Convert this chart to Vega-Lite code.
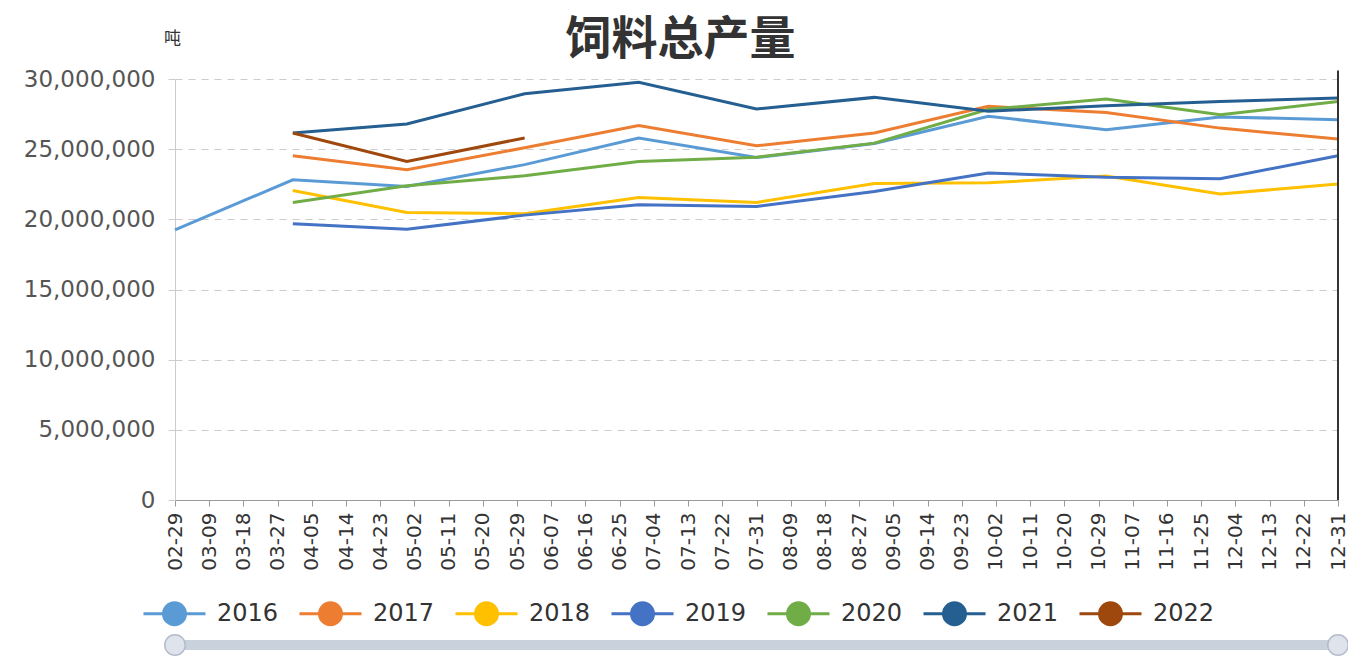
{
  "$schema": "https://vega.github.io/schema/vega-lite/v6.json",
  "width": 1163,
  "height": 421,
  "autosize": {"type": "none"},
  "padding": {"left": 175, "top": 79, "right": 10, "bottom": 158},
  "background": "white",
  "title": {
    "text": "饲料总产量",
    "anchor": "middle",
    "frame": "group",
    "dx": -76,
    "dy": 39,
    "font": "Noto Sans CJK SC",
    "fontSize": 46,
    "fontWeight": "bold",
    "color": "#333333"
  },
  "config": {
    "view": {"stroke": null},
    "font": "DejaVu Sans",
    "axis": {"labelOverlap": false},
    "axisX": {"labelOverlap": false}
  },
  "layer": [
    {
      "data": {
        "values": [
          {"year": "2016", "date": "2016-02-29", "value": 19250000},
          {"year": "2016", "date": "2016-03-31", "value": 22820000},
          {"year": "2016", "date": "2016-04-30", "value": 22340000},
          {"year": "2016", "date": "2016-05-31", "value": 23900000},
          {"year": "2016", "date": "2016-06-30", "value": 25790000},
          {"year": "2016", "date": "2016-07-31", "value": 24400000},
          {"year": "2016", "date": "2016-08-31", "value": 25400000},
          {"year": "2016", "date": "2016-09-30", "value": 27350000},
          {"year": "2016", "date": "2016-10-31", "value": 26380000},
          {"year": "2016", "date": "2016-11-30", "value": 27300000},
          {"year": "2016", "date": "2016-12-31", "value": 27100000},
          {"year": "2017", "date": "2016-03-31", "value": 24530000},
          {"year": "2017", "date": "2016-04-30", "value": 23530000},
          {"year": "2017", "date": "2016-05-31", "value": 25100000},
          {"year": "2017", "date": "2016-06-30", "value": 26680000},
          {"year": "2017", "date": "2016-07-31", "value": 25240000},
          {"year": "2017", "date": "2016-08-31", "value": 26150000},
          {"year": "2017", "date": "2016-09-30", "value": 28050000},
          {"year": "2017", "date": "2016-10-31", "value": 27620000},
          {"year": "2017", "date": "2016-11-30", "value": 26500000},
          {"year": "2017", "date": "2016-12-31", "value": 25720000},
          {"year": "2018", "date": "2016-03-31", "value": 22060000},
          {"year": "2018", "date": "2016-04-30", "value": 20490000},
          {"year": "2018", "date": "2016-05-31", "value": 20400000},
          {"year": "2018", "date": "2016-06-30", "value": 21560000},
          {"year": "2018", "date": "2016-07-31", "value": 21200000},
          {"year": "2018", "date": "2016-08-31", "value": 22560000},
          {"year": "2018", "date": "2016-09-30", "value": 22600000},
          {"year": "2018", "date": "2016-10-31", "value": 23080000},
          {"year": "2018", "date": "2016-11-30", "value": 21800000},
          {"year": "2018", "date": "2016-12-31", "value": 22520000},
          {"year": "2019", "date": "2016-03-31", "value": 19680000},
          {"year": "2019", "date": "2016-04-30", "value": 19300000},
          {"year": "2019", "date": "2016-05-31", "value": 20300000},
          {"year": "2019", "date": "2016-06-30", "value": 21040000},
          {"year": "2019", "date": "2016-07-31", "value": 20920000},
          {"year": "2019", "date": "2016-08-31", "value": 21990000},
          {"year": "2019", "date": "2016-09-30", "value": 23300000},
          {"year": "2019", "date": "2016-10-31", "value": 23000000},
          {"year": "2019", "date": "2016-11-30", "value": 22900000},
          {"year": "2019", "date": "2016-12-31", "value": 24530000},
          {"year": "2020", "date": "2016-03-31", "value": 21200000},
          {"year": "2020", "date": "2016-04-30", "value": 22400000},
          {"year": "2020", "date": "2016-05-31", "value": 23100000},
          {"year": "2020", "date": "2016-06-30", "value": 24120000},
          {"year": "2020", "date": "2016-07-31", "value": 24430000},
          {"year": "2020", "date": "2016-08-31", "value": 25430000},
          {"year": "2020", "date": "2016-09-30", "value": 27840000},
          {"year": "2020", "date": "2016-10-31", "value": 28570000},
          {"year": "2020", "date": "2016-11-30", "value": 27450000},
          {"year": "2020", "date": "2016-12-31", "value": 28400000},
          {"year": "2021", "date": "2016-03-31", "value": 26150000},
          {"year": "2021", "date": "2016-04-30", "value": 26790000},
          {"year": "2021", "date": "2016-05-31", "value": 28950000},
          {"year": "2021", "date": "2016-06-30", "value": 29760000},
          {"year": "2021", "date": "2016-07-31", "value": 27860000},
          {"year": "2021", "date": "2016-08-31", "value": 28690000},
          {"year": "2021", "date": "2016-09-30", "value": 27700000},
          {"year": "2021", "date": "2016-10-31", "value": 28100000},
          {"year": "2021", "date": "2016-11-30", "value": 28390000},
          {"year": "2021", "date": "2016-12-31", "value": 28650000},
          {"year": "2022", "date": "2016-03-31", "value": 26150000},
          {"year": "2022", "date": "2016-04-30", "value": 24120000},
          {"year": "2022", "date": "2016-05-31", "value": 25800000}
        ]
      },
      "mark": {"type": "line", "strokeWidth": 3, "clip": false},
      "encoding": {
        "x": {
          "field": "date",
          "type": "temporal",
          "scale": {
            "type": "utc",
            "domain": [
              {"year": 2016, "month": 2, "date": 29, "utc": true},
              {"year": 2016, "month": 12, "date": 31, "utc": true}
            ],
            "nice": false
          },
          "axis": {
            "title": null,
            "tickCount": 60,
            "values": [
              {"year": 2016, "month": 2, "date": 29, "utc": true},
              {"year": 2016, "month": 3, "date": 9, "utc": true},
              {"year": 2016, "month": 3, "date": 18, "utc": true},
              {"year": 2016, "month": 3, "date": 27, "utc": true},
              {"year": 2016, "month": 4, "date": 5, "utc": true},
              {"year": 2016, "month": 4, "date": 14, "utc": true},
              {"year": 2016, "month": 4, "date": 23, "utc": true},
              {"year": 2016, "month": 5, "date": 2, "utc": true},
              {"year": 2016, "month": 5, "date": 11, "utc": true},
              {"year": 2016, "month": 5, "date": 20, "utc": true},
              {"year": 2016, "month": 5, "date": 29, "utc": true},
              {"year": 2016, "month": 6, "date": 7, "utc": true},
              {"year": 2016, "month": 6, "date": 16, "utc": true},
              {"year": 2016, "month": 6, "date": 25, "utc": true},
              {"year": 2016, "month": 7, "date": 4, "utc": true},
              {"year": 2016, "month": 7, "date": 13, "utc": true},
              {"year": 2016, "month": 7, "date": 22, "utc": true},
              {"year": 2016, "month": 7, "date": 31, "utc": true},
              {"year": 2016, "month": 8, "date": 9, "utc": true},
              {"year": 2016, "month": 8, "date": 18, "utc": true},
              {"year": 2016, "month": 8, "date": 27, "utc": true},
              {"year": 2016, "month": 9, "date": 5, "utc": true},
              {"year": 2016, "month": 9, "date": 14, "utc": true},
              {"year": 2016, "month": 9, "date": 23, "utc": true},
              {"year": 2016, "month": 10, "date": 2, "utc": true},
              {"year": 2016, "month": 10, "date": 11, "utc": true},
              {"year": 2016, "month": 10, "date": 20, "utc": true},
              {"year": 2016, "month": 10, "date": 29, "utc": true},
              {"year": 2016, "month": 11, "date": 7, "utc": true},
              {"year": 2016, "month": 11, "date": 16, "utc": true},
              {"year": 2016, "month": 11, "date": 25, "utc": true},
              {"year": 2016, "month": 12, "date": 4, "utc": true},
              {"year": 2016, "month": 12, "date": 13, "utc": true},
              {"year": 2016, "month": 12, "date": 22, "utc": true},
              {"year": 2016, "month": 12, "date": 31, "utc": true}
            ],
            "format": "%m-%d",
            "labelAngle": -90,
            "labelOverlap": false,
            "labelBound": false,
            "labelFlush": false,
            "labelFontSize": 20,
            "labelColor": "#333333",
            "labelPadding": 6,
            "tickSize": 6,
            "tickColor": "#999999",
            "domainColor": "#999999",
            "grid": false
          }
        },
        "y": {
          "field": "value",
          "type": "quantitative",
          "scale": {"domain": [0, 30000000], "nice": false},
          "axis": {
            "values": [0, 5000000, 10000000, 15000000, 20000000, 25000000, 30000000],
            "format": ",d",
            "title": "吨",
            "titleAngle": 0,
            "titleX": -3,
            "titleY": -41,
            "titleAlign": "center",
            "titleBaseline": "middle",
            "titleFont": "Noto Sans CJK SC",
            "titleFontSize": 17,
            "titleFontWeight": "normal",
            "titleColor": "#333333",
            "labelFontSize": 23,
            "labelColor": "#555555",
            "labelPadding": 10,
            "tickSize": 10,
            "tickColor": "#cccccc",
            "tickDash": [7, 6],
            "domainColor": "#cccccc",
            "gridColor": "#cccccc",
            "gridDash": [7, 6],
            "gridWidth": 1.2
          }
        },
        "color": {
          "field": "year",
          "type": "nominal",
          "scale": {
            "domain": ["2016", "2017", "2018", "2019", "2020", "2021", "2022"],
            "range": ["#5B9BD5", "#ED7D31", "#FFC000", "#4472C4", "#70AD47", "#255E91", "#9E480E"]
          },
          "legend": {
            "title": null,
            "orient": "none",
            "direction": "horizontal",
            "legendX": -33,
            "legendY": 502,
            "symbolType": "M-1,0L-0.355,0M0.355,0L1,0M-0.355,0A0.355,0.355,0,1,1,0.355,0A0.355,0.355,0,1,1,-0.355,0Z",
            "symbolSize": 3844,
            "symbolStrokeWidth": 3,
            "labelFontSize": 24,
            "labelColor": "#333333",
            "labelOffset": 10,
            "columnPadding": 14,
            "encode": {
              "symbols": {
                "update": {
                  "fill": {"scale": "color", "field": "value"},
                  "fillOpacity": {"value": 1}
                }
              }
            }
          }
        }
      }
    },
    {
      "data": {"values": [{}]},
      "mark": {"type": "rule", "color": "#333333", "strokeWidth": 2, "clip": false},
      "encoding": {
        "x": {"datum": {"year": 2016, "month": 12, "date": 31, "utc": true}, "type": "temporal"},
        "y": {"datum": 0, "type": "quantitative"},
        "y2": {"datum": 30600000}
      }
    },
    {
      "data": {"values": [{}]},
      "mark": {"type": "rule", "color": "#c9d1dd", "strokeWidth": 10, "strokeCap": "round", "clip": false},
      "encoding": {
        "x": {"datum": {"year": 2016, "month": 2, "date": 29, "utc": true}, "type": "temporal"},
        "x2": {"datum": {"year": 2016, "month": 12, "date": 31, "utc": true}},
        "y": {"datum": -10330000, "type": "quantitative"}
      }
    },
    {
      "data": {"values": [{}]},
      "mark": {"type": "point", "filled": true, "size": 420, "fill": "#dfe4ec", "stroke": "#b4bccb", "strokeWidth": 1.5, "opacity": 1, "clip": false},
      "encoding": {
        "x": {"datum": {"year": 2016, "month": 2, "date": 29, "utc": true}, "type": "temporal"},
        "y": {"datum": -10330000, "type": "quantitative"}
      }
    },
    {
      "data": {"values": [{}]},
      "mark": {"type": "point", "filled": true, "size": 420, "fill": "#dfe4ec", "stroke": "#b4bccb", "strokeWidth": 1.5, "opacity": 1, "clip": false},
      "encoding": {
        "x": {"datum": {"year": 2016, "month": 12, "date": 31, "utc": true}, "type": "temporal"},
        "y": {"datum": -10330000, "type": "quantitative"}
      }
    }
  ]
}
